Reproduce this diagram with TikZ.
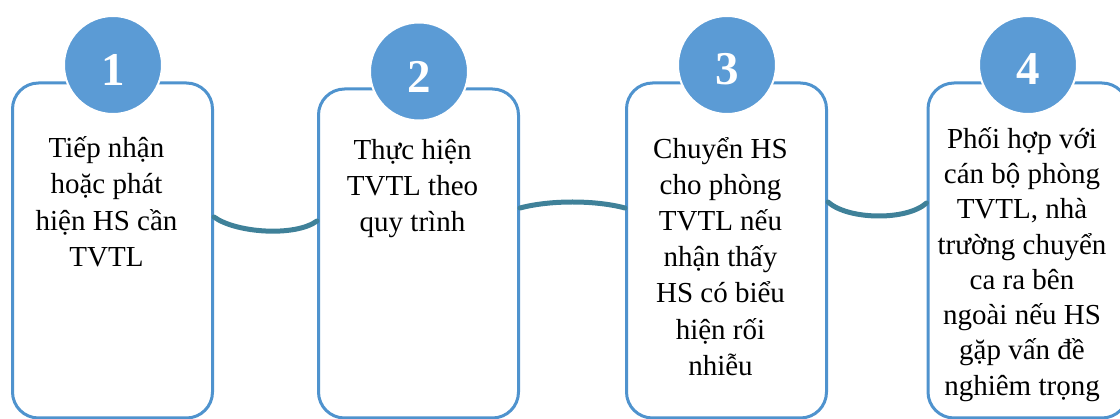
\documentclass[tikz,border=0pt]{standalone}
\usepackage{fontspec}
\setmainfont{Liberation Serif}
\definecolor{boxblue}{HTML}{4F93CE}
\definecolor{circblue}{HTML}{5B9BD5}
\definecolor{linkteal}{HTML}{3F8199}
\tikzset{
  stepbox/.style={draw=boxblue, line width=3pt, rounded corners=26pt, fill=white,
    minimum width=200pt, inner sep=0pt},
  numcirc/.style={circle, fill=circblue, draw=white, line width=2pt, minimum size=98pt, inner sep=0pt},
  numtext/.style={text=white, font={\fontsize{47}{47}\selectfont\bfseries}, inner sep=0pt},
  bodytext/.style={align=center, inner sep=0pt, anchor=north, text=black},
  link/.style={draw=linkteal, line width=5pt, line cap=round},
}
\newcommand{\fs}{\rule{0pt}{31pt}}
\begin{document}
\begin{tikzpicture}[x=1pt,y=-1pt]
\useasboundingbox (0,0) rectangle (1120,419);
\clip (0,0) rectangle (1120,419);
% boxes
\node[stepbox, minimum height=335pt] (b1) at (112.5,250.5) {};
\node[stepbox, minimum height=329pt] (b2) at (418.5,253.5) {};
\node[stepbox, minimum height=335pt] (b3) at (726.5,250.5) {};
\node[stepbox, minimum height=335pt] (b4) at (1028,250.5) {};
% circles
\node[numcirc] (c1) at (113,65) {};
\node[numcirc] (c2) at (419,71.5) {};
\node[numcirc] (c3) at (727,65) {};
\node[numcirc] (c4) at (1028,65) {};
\node[numtext] (n1) at ([yshift=-4.5pt]c1.center) {1};
\node[numtext] (n2) at ([yshift=-5pt]c2.center) {2};
\node[numtext] (n3) at ([yshift=-4.5pt]c3.center) {3};
\node[numtext] (n4) at ([yshift=-4.5pt]c4.center) {4};
% texts
\node[bodytext, font={\fontsize{29}{36.5}\selectfont}] (t1) at (106.5,126)
  {\fs Tiếp nhận\\hoặc phát\\hiện HS cần\\TVTL};
\node[bodytext, font={\fontsize{29}{36}\selectfont}] (t2) at (412.5,128)
  {\fs Thực hiện\\TVTL theo\\quy trình};
\node[bodytext, font={\fontsize{29}{36.2}\selectfont}] (t3) at (720.5,127)
  {\fs Chuyển HS\\cho phòng\\TVTL nếu\\nhận thấy\\HS có biểu\\hiện rối\\nhiễu};
\node[bodytext, font={\fontsize{29}{35.3}\selectfont}] (t4) at (1022,117)
  {\fs Phối hợp với\\cán bộ phòng\\TVTL, nhà\\trường chuyển\\ca ra bên\\ngoài nếu HS\\gặp vấn đề\\nghiêm trọng};
% connectors
\draw[link] ([yshift=33.5pt]b1.east) .. controls +(22,16) and +(-22,16) .. ([yshift=32.5pt]b2.west);
\draw[link] ([yshift=45.5pt]b2.east) .. controls +(30,-8) and +(-30,-8) .. ([yshift=42.5pt]b3.west);
\draw[link] ([yshift=48.5pt]b3.east) .. controls +(20,18) and +(-20,18) .. ([yshift=47.5pt]b4.west);
\end{tikzpicture}
\end{document}
